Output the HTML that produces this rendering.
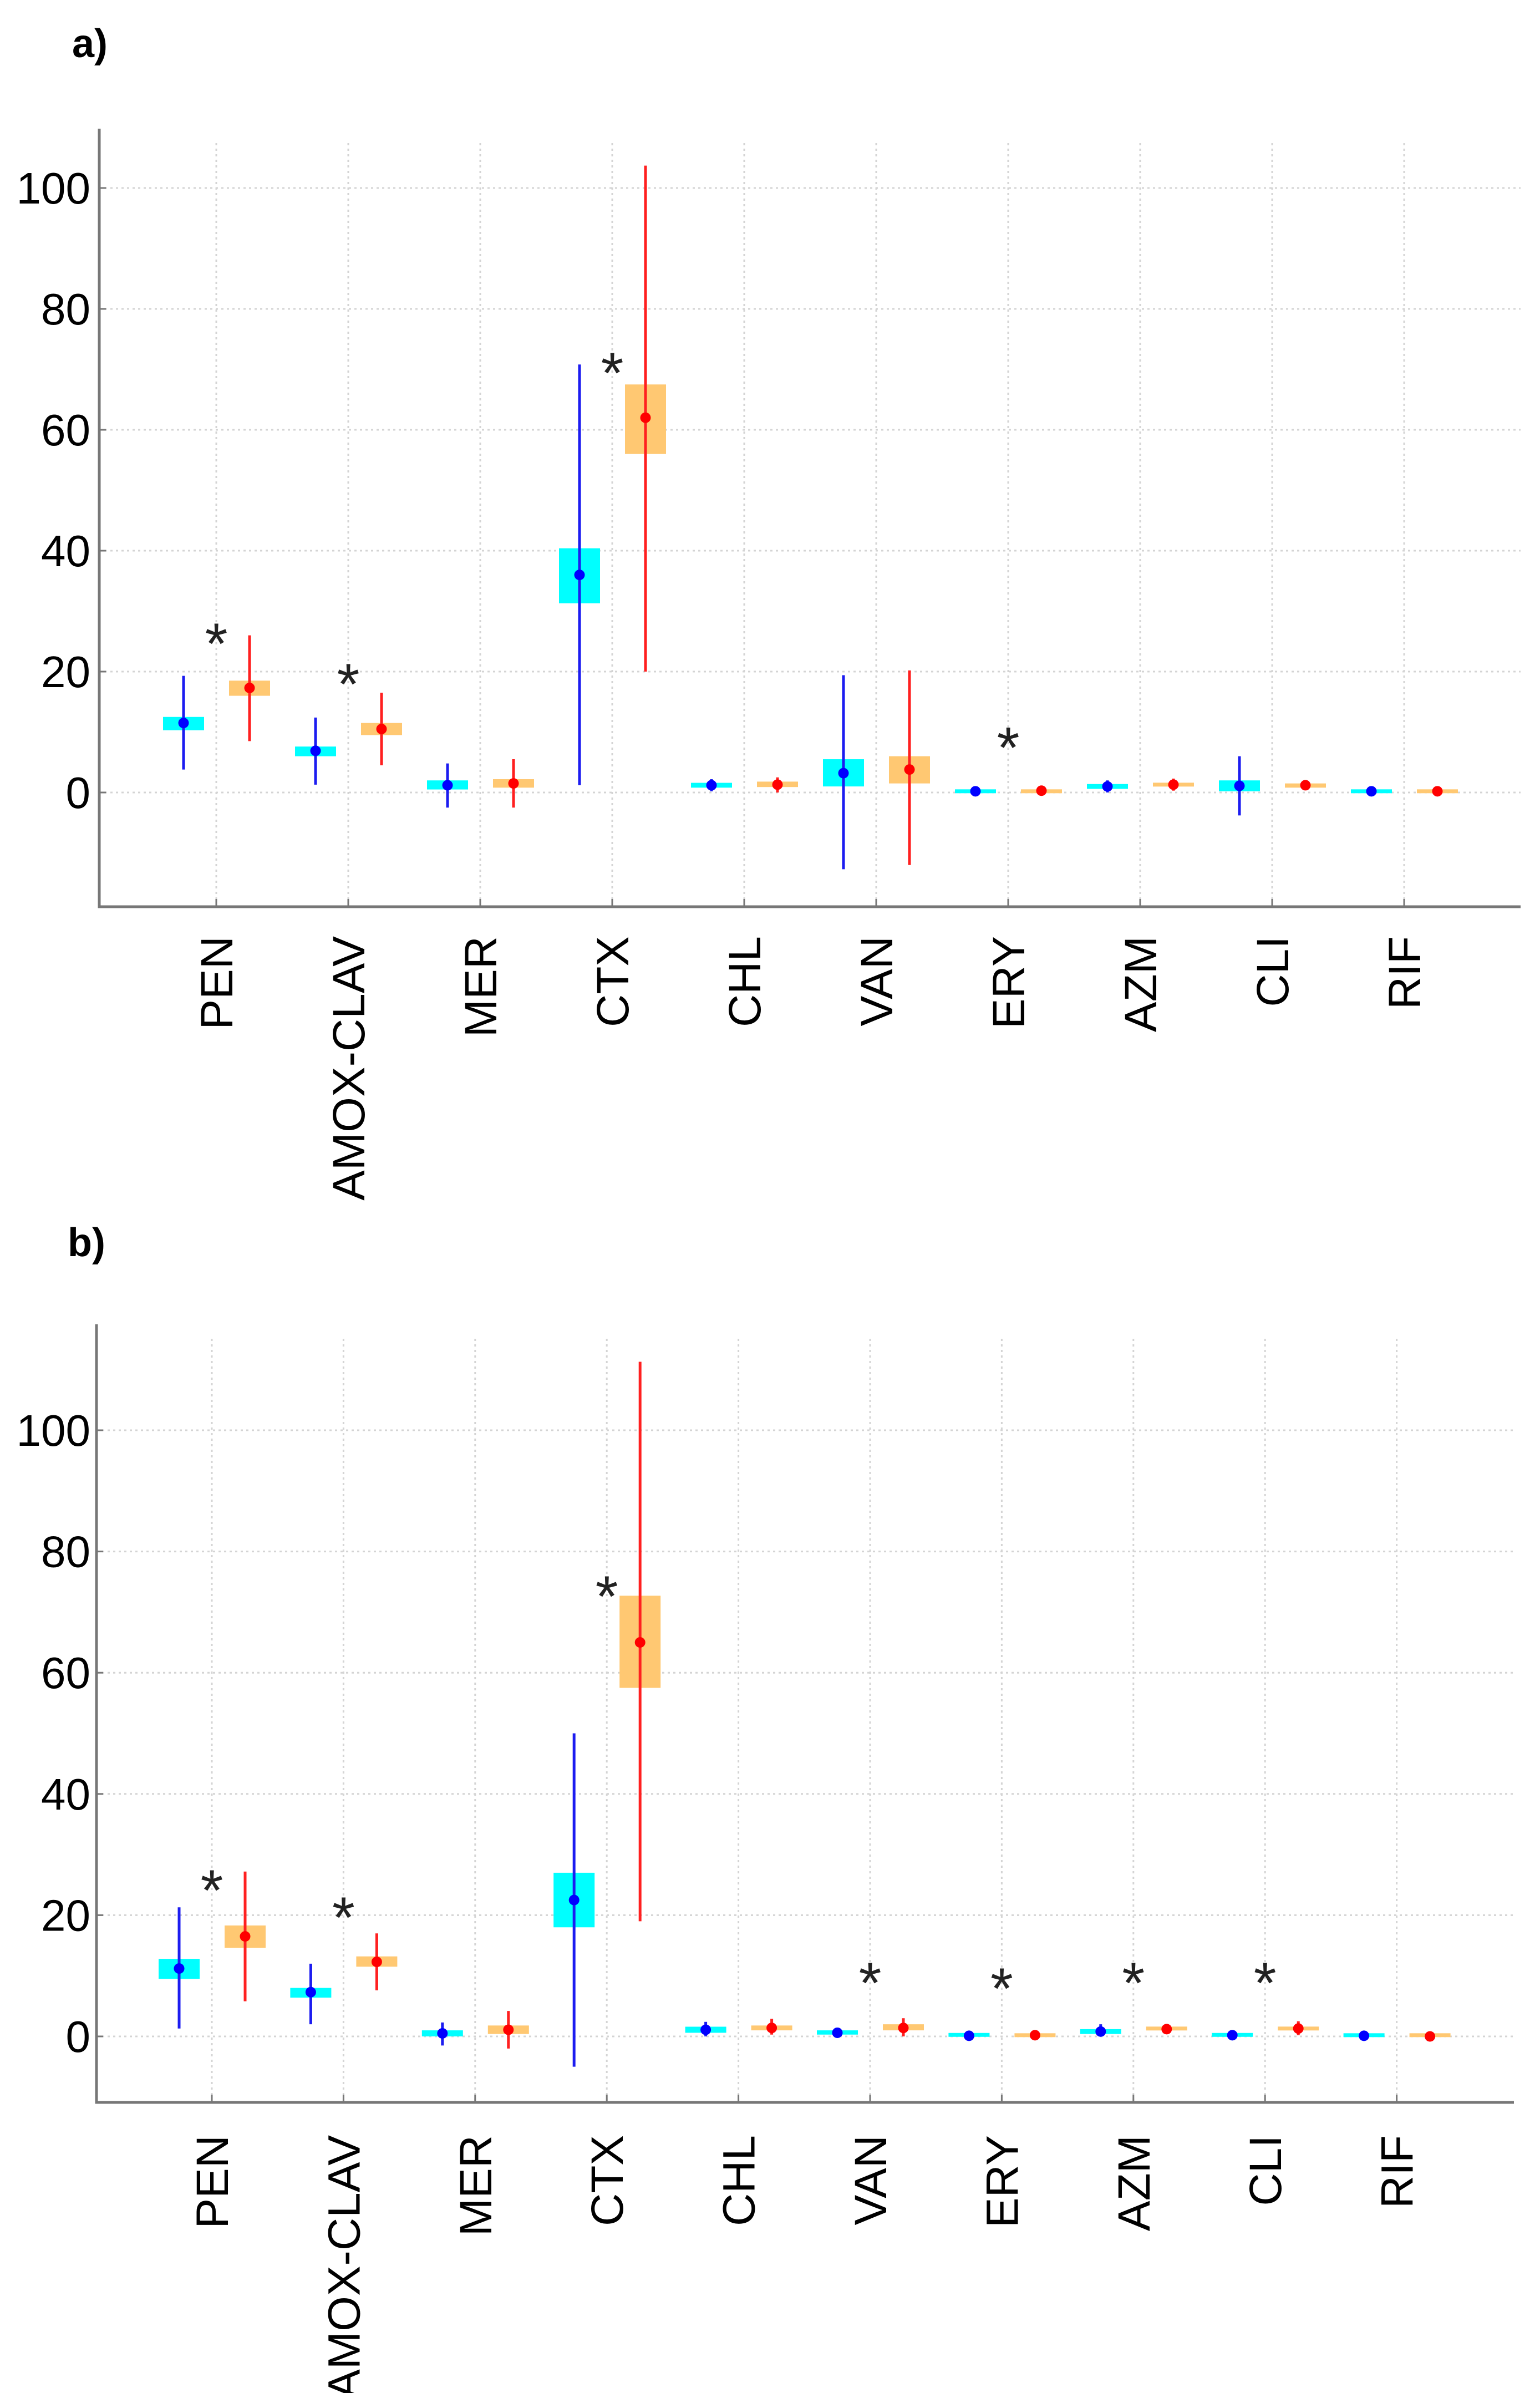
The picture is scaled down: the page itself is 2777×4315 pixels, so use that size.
<!DOCTYPE html>
<html><head><meta charset="utf-8"><style>
html,body{margin:0;padding:0;background:#fff;}
svg{display:block;}
text{font-family:"Liberation Sans",sans-serif;}
</style></head><body>
<svg id="fig" width="2777" height="4315" viewBox="0 0 2777 4315" xmlns="http://www.w3.org/2000/svg">
<rect x="0" y="0" width="2777" height="4315" fill="#fff"/>
<text x="130" y="103" font-size="72" font-weight="bold">a)</text>
<text x="122" y="2265" font-size="72" font-weight="bold">b)</text>
<g id="pa"></g>
<g id="pb"></g>
</svg>
<script>
const categories = ["PEN","AMOX-CLAV","MER","CTX","CHL","VAN","ERY","AZM","CLI","RIF"];
const yTicks = [0,20,40,60,80,100];
// panel a — blue series (cyan box)
const aBlueMed = [11.5,6.9,1.2,36,1.2,3.2,0.2,1.0,1.1,0.2];
const aBlueBoxLo = [10.3,6.0,0.5,31.3,0.8,1.0,0,0.6,0.2,0];
const aBlueBoxHi = [12.5,7.6,2.0,40.4,1.6,5.5,0.4,1.4,2.0,0.4];
const aBlueWLo = [3.8,1.3,-2.5,1.2,0.2,-12.7,0,0,-3.8,0];
const aBlueWHi = [19.3,12.4,4.8,70.8,2.2,19.4,0.4,2.0,6.0,0.4];
// panel a — red series (orange box)
const aRedMed = [17.3,10.5,1.5,62,1.3,3.8,0.3,1.3,1.2,0.2];
const aRedBoxLo = [16.0,9.5,0.8,56,0.9,1.5,0,1.0,0.8,0];
const aRedBoxHi = [18.5,11.5,2.2,67.5,1.8,6.0,0.4,1.6,1.5,0.4];
const aRedWLo = [8.5,4.5,-2.5,20,0,-12,0,0.3,0.4,0];
const aRedWHi = [26,16.5,5.5,103.7,2.5,20.2,0.4,2.3,2.0,0.4];
const aStars = [27,20.3,null,71.8,null,null,9.8,null,null,null];
// panel b
const bBlueMed = [11.2,7.3,0.5,22.5,1.1,0.6,0.1,0.8,0.2,0.1];
const bBlueBoxLo = [9.5,6.4,0,18,0.6,0.3,0,0.4,0,0];
const bBlueBoxHi = [12.8,8.0,1.0,27,1.6,1.0,0.5,1.2,0.5,0.4];
const bBlueWLo = [1.3,2.0,-1.5,-5,0,0.3,0,0,0,0];
const bBlueWHi = [21.3,12.0,2.3,50,2.4,1.0,0.5,2.0,0.5,0.4];
const bRedMed = [16.5,12.3,1.1,65,1.4,1.4,0.2,1.2,1.3,0];
const bRedBoxLo = [14.6,11.5,0.4,57.5,1.0,1.0,0,1.0,1.0,0];
const bRedBoxHi = [18.3,13.2,1.8,72.7,1.8,2.0,0.4,1.6,1.6,0.4];
const bRedWLo = [5.8,7.6,-2,19,0.3,0,0,0.4,0.2,0];
const bRedWHi = [27.2,17,4.2,111.3,2.9,3.0,0.4,2.0,2.5,0.4];
const bStars = [26.5,22,null,75,null,11.2,10.3,11.2,11.2,null];

const NS = "http://www.w3.org/2000/svg";
function mk(parent, tag, attrs){
  const el = document.createElementNS(NS, tag);
  for (const k in attrs) el.setAttribute(k, attrs[k]);
  parent.appendChild(el);
  return el;
}
function panel(g, cfg, d){
  const y = v => cfg.y0 - v*cfg.pu;
  const x = i => cfg.x0 + i*cfg.dx;
  yTicks.forEach(t=>{
    const gl = mk(g,"line",{x1:cfg.left,x2:cfg.right,y1:y(t),y2:y(t),stroke:"#d4d4d4","stroke-width":3,"stroke-dasharray":"4 6"});
    
    
    const tk = mk(g,"line",{x1:cfg.left,x2:cfg.left+12,y1:y(t),y2:y(t),stroke:"#777","stroke-width":3});
    
    
    const tl = mk(g,"text",{x:163,y:y(t)+28,"font-size":80,"text-anchor":"end",fill:"#000"});
    tl.textContent = t;
    
    
  });
  categories.forEach((c,i)=>{
    const gl = mk(g,"line",{x1:x(i),x2:x(i),y1:cfg.top+26,y2:cfg.bottom,stroke:"#d4d4d4","stroke-width":3,"stroke-dasharray":"4 6"});
    
    
    const tk = mk(g,"line",{x1:x(i),x2:x(i),y1:cfg.bottom,y2:cfg.bottom-14,stroke:"#777","stroke-width":3});
    
    
    const ly = cfg.labelY;
    const tl = mk(g,"text",{x:x(i)+29,y:ly,"font-size":82,"text-anchor":"end",fill:"#000",transform:`rotate(-90 ${x(i)+29} ${ly})`});
    tl.textContent = c;
    
    
  });
  const ax = mk(g,"path",{d:`M${cfg.left} ${cfg.top} V${cfg.bottom} H${cfg.right}`,fill:"none",stroke:"#777","stroke-width":5});
  
  
  const series = [
    {med:d.bm,lo:d.bl,hi:d.bh,wl:d.bwl,wh:d.bwh,off:-59,box:"#00ffff",line:"#1c1cf0",dot:"#0000ff",name:"blue"},
    {med:d.rm,lo:d.rl,hi:d.rh,wl:d.rwl,wh:d.rwh,off:60,box:"#ffc872",line:"#ff2020",dot:"#ff0000",name:"red"}
  ];
  series.forEach(s=>{
    categories.forEach((c,i)=>{
      const cx = x(i)+s.off;
      const yl = y(s.lo[i]), yh = y(s.hi[i]);
      const hb = Math.max(yl-yh,7);
      const bx = mk(g,"rect",{x:cx-37,y:(yl+yh)/2-hb/2,width:74,height:hb,fill:s.box});
      
      
      const wl = mk(g,"line",{x1:cx,x2:cx,y1:y(s.wl[i]),y2:y(s.wh[i]),stroke:s.line,"stroke-width":5});
      
      
      const dt = mk(g,"circle",{cx:cx,cy:y(s.med[i]),r:9.5,fill:s.dot});
      
      
    });
  });
  d.stars.forEach((v,i)=>{
    if (v===null) return;
    const st = mk(g,"text",{x:x(i),y:y(v)+62,"font-size":105,"text-anchor":"middle",fill:"#222"});
    st.textContent = "*";
    
    
  });
}
panel(document.getElementById("pa"),
  {left:179,right:2742,top:232,bottom:1635,y0:1429,pu:10.9,x0:390,dx:238,labelY:1688},
  {bm:aBlueMed,bl:aBlueBoxLo,bh:aBlueBoxHi,bwl:aBlueWLo,bwh:aBlueWHi,
   rm:aRedMed,rl:aRedBoxLo,rh:aRedBoxHi,rwl:aRedWLo,rwh:aRedWHi,stars:aStars});
panel(document.getElementById("pb"),
  {left:174,right:2730,top:2388,bottom:3791,y0:3672,pu:10.93,x0:382,dx:237.4,labelY:3850},
  {bm:bBlueMed,bl:bBlueBoxLo,bh:bBlueBoxHi,bwl:bBlueWLo,bwh:bBlueWHi,
   rm:bRedMed,rl:bRedBoxLo,rh:bRedBoxHi,rwl:bRedWLo,rwh:bRedWHi,stars:bStars});
</script>
</body></html>
